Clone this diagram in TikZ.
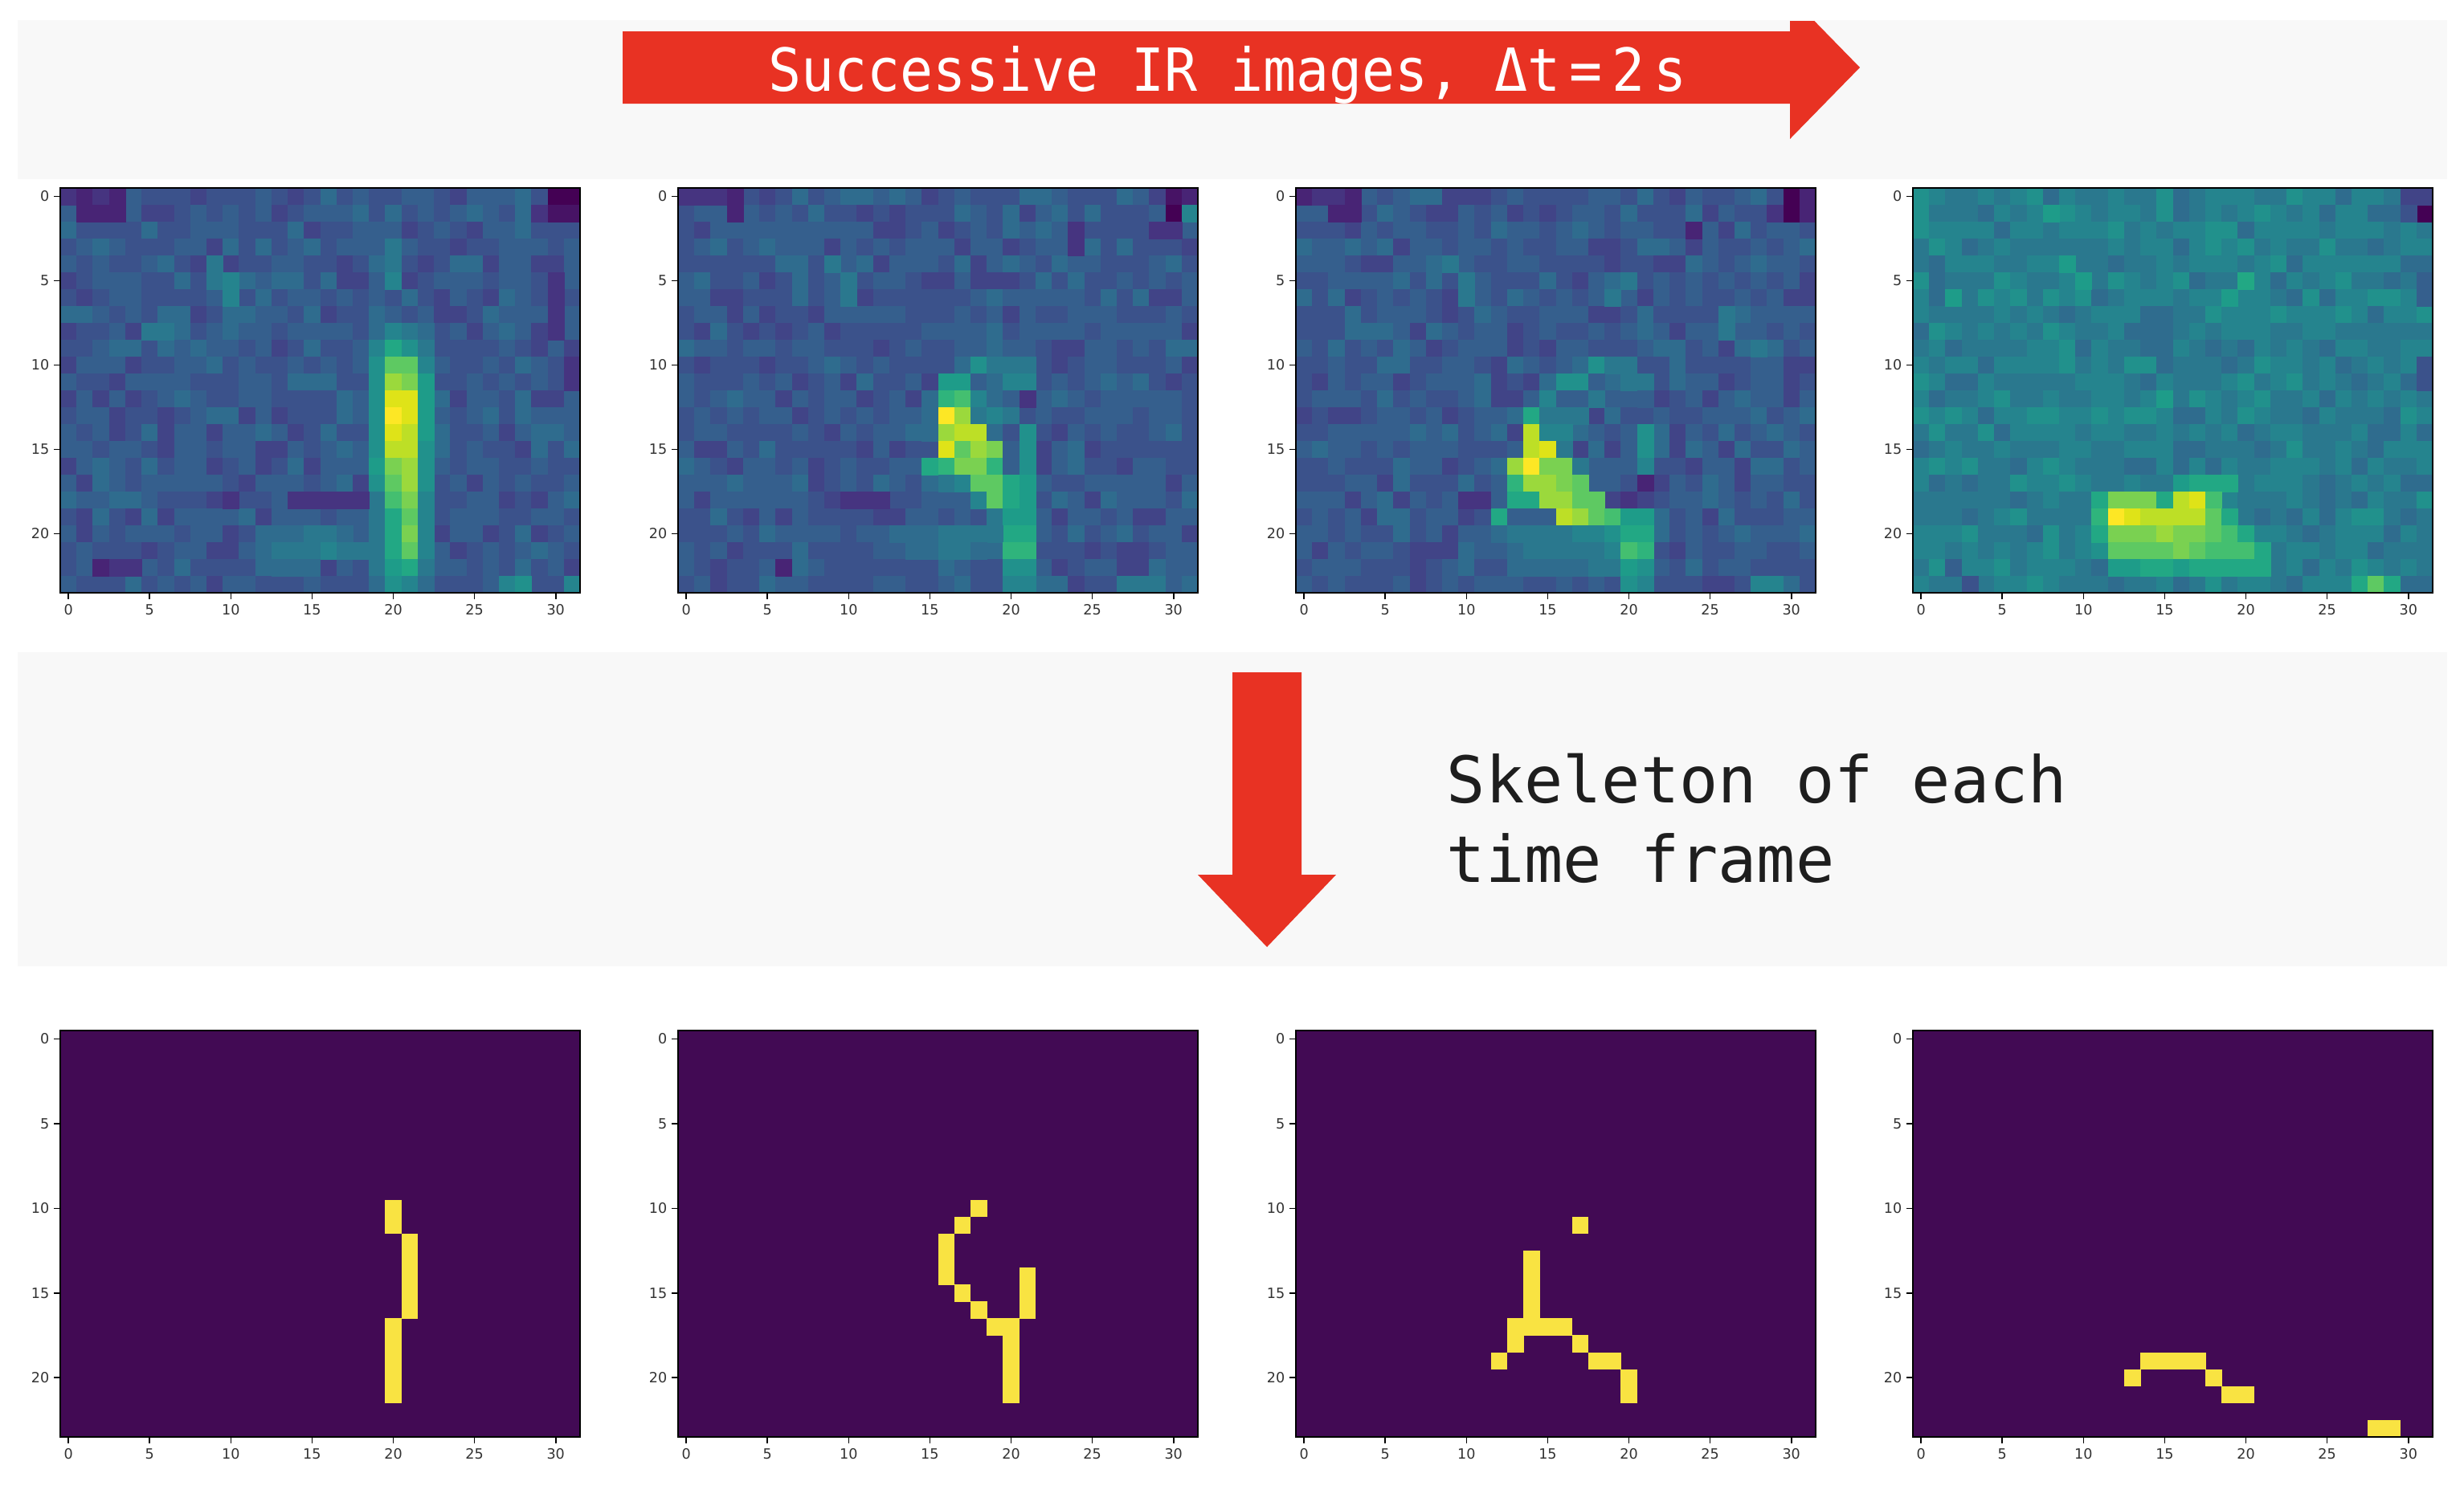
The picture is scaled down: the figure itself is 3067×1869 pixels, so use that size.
\documentclass[tikz,border=0pt]{standalone}
\usepackage{fontspec}
\setmainfont{DejaVu Sans}
\newfontfamily\monofont{DejaVu Sans Mono}
\definecolor{v0}{HTML}{440154}
\definecolor{v1}{HTML}{471365}
\definecolor{v2}{HTML}{482475}
\definecolor{v3}{HTML}{463480}
\definecolor{v4}{HTML}{414487}
\definecolor{v5}{HTML}{3B528B}
\definecolor{v6}{HTML}{355F8D}
\definecolor{v7}{HTML}{2F6C8E}
\definecolor{v8}{HTML}{2A788E}
\definecolor{v9}{HTML}{25848E}
\definecolor{v10}{HTML}{21918C}
\definecolor{v11}{HTML}{1E9C89}
\definecolor{v12}{HTML}{22A884}
\definecolor{v13}{HTML}{2FB47C}
\definecolor{v14}{HTML}{44BF70}
\definecolor{v15}{HTML}{5EC962}
\definecolor{v16}{HTML}{7AD151}
\definecolor{v17}{HTML}{9BD93C}
\definecolor{v18}{HTML}{BDDF26}
\definecolor{v19}{HTML}{DFE318}
\definecolor{v20}{HTML}{FDE725}
\definecolor{arrowred}{RGB}{232,50,35}
\definecolor{bandgray}{HTML}{F8F8F8}
\definecolor{skbg}{HTML}{420A54}
\definecolor{skyel}{HTML}{F9E342}
\definecolor{textdark}{HTML}{1E1E1E}

\tikzset{
  band/.style={fill=bandgray},
  redarrow/.style={fill=arrowred},
  framestyle/.style={draw=black, line width=0.6pt},
  tickstyle/.style={draw=black, line width=0.45pt},
  ticklabel/.style={font=\fontsize{5}{6}\selectfont, text=black!80, inner sep=0pt},
  bigtext/.style={font=\monofont\fontsize{22.8}{27}\selectfont, text=textdark, inner sep=0pt},
  toptext/.style={font=\monofont\fontsize{21}{25}\selectfont, text=white, inner sep=0pt},
}

\def\cw{20.22}
% #1 x0, #2 y0, #3 base level, #4 features c/r/level
\newcommand\heatpanel[4]{%
  \foreach \rr in {0,...,23}{
    \foreach \cc in {0,...,31}{
      \pgfmathrandominteger{\ra}{0}{1}
      \pgfmathrandominteger{\rb}{0}{1}
      \pgfmathrandominteger{\rc}{0}{1}
      \pgfmathtruncatemacro{\lv}{#3+\ra+\rb+\rc}
      \fill[fill=v\lv] ({#1+\cc*\cw},{#2+\rr*21}) rectangle ++(\cw+0.8,21.8);
    }
  }
  \foreach \cc/\rr/\ll in {#4}{
    \fill[fill=v\ll] ({#1+\cc*\cw},{#2+\rr*21}) rectangle ++(\cw+0.8,21.8);
  }
}
% #1 x0, #2 y0, #3 cells c/r
\newcommand\skelpanel[3]{%
  \fill[skbg] (#1,#2) rectangle ++(647,506);
  \foreach \cc/\rr in {#3}{
    \fill[skyel] ({#1+\cc*\cw},{#2+\rr*21.08}) rectangle ++(\cw+0.5,21.58);
  }
}
% #1 x0, #2 y0, #3 height, #4 id
\newcommand\panelaxes[4]{%
  \draw[framestyle] (#1,#2) rectangle ++(647,#3);
  \foreach \rr in {0,5,10,15,20}{
    \draw[tickstyle] ({#1-8},{#2+(\rr+0.5)*#3/24}) -- ++(8,0);
    \node[ticklabel, anchor=east] (#4y\rr) at ({#1-13},{#2+(\rr+0.5)*#3/24}) {\rr};
  }
  \foreach \cc in {0,5,...,30}{
    \draw[tickstyle] ({#1+(\cc+0.5)*\cw},{#2+#3}) -- ++(0,8);
    \node[ticklabel, anchor=north] (#4x\cc) at ({#1+(\cc+0.5)*\cw},{#2+#3+14}) {\cc};
  }
}

\begin{document}
\begin{tikzpicture}[x=0.01cm, y=-0.01cm]
\useasboundingbox (0,0) rectangle (3067,1869);
\fill[white] (0,0) rectangle (3067,1869);
\pgfmathsetseed{4242}

% bands
\fill[band] (22,25) rectangle (3046,223);
\fill[band] (22,812) rectangle (3046,1203);

% top arrow (clipped at the band top)
\begin{scope}
  \clip (0,26) rectangle (3067,1869);
  \fill[redarrow] (775,39) -- (2228,39) -- (2228,-5) -- (2315,84) -- (2228,173) -- (2228,129) -- (775,129) -- cycle;
\end{scope}
\node[toptext, anchor=base] (ttl) at (1528,113) {\scalebox{0.924}[1]{Successive IR images, Δt\,=\,2\,s}};

% down arrow
\fill[redarrow] (1534,837) -- (1620,837) -- (1620,1089) -- (1663,1089) -- (1577,1179) -- (1491,1089) -- (1534,1089) -- cycle;
\node[bigtext, anchor=base west] (sk1) at (1800,999) {Skeleton of each};
\node[bigtext, anchor=base west] (sk2) at (1800,1098) {time frame};

% ---------- heatmaps ----------
\heatpanel{75}{234}{4}{19/8/7,20/8/9,21/8/8,22/8/7,
19/9/9,20/9/12,21/9/10,22/9/8,
19/10/10,20/10/15,21/10/15,22/10/9,
19/11/10,20/11/17,21/11/16,22/11/11,
19/12/10,20/12/19,21/12/19,22/12/11,
19/13/10,20/13/20,21/13/19,22/13/11,
19/14/10,20/14/19,21/14/18,22/14/11,
19/15/10,20/15/18,21/15/18,22/15/10,
19/16/11,20/16/16,21/16/17,22/16/10,
19/17/10,20/17/15,21/17/17,22/17/10,
19/18/8,20/18/14,21/18/16,22/18/9,
19/19/8,20/19/12,21/19/15,22/19/9,
19/20/8,20/20/12,21/20/16,22/20/9,
19/21/8,20/21/12,21/21/15,22/21/9,
19/22/8,20/22/11,21/22/12,22/22/8,
19/23/7,20/23/10,21/23/9,22/23/7,
0/0/3,1/0/2,2/0/3,3/0/2,1/1/2,2/1/2,3/1/2,30/0/0,31/0/0,30/1/1,31/1/1,29/1/3,
30/5/3,30/6/3,30/7/3,30/8/3,31/10/3,31/11/3,2/22/2,3/22/3,4/22/3,
9/4/8,9/5/8,10/5/9,10/6/9,20/4/8,20/5/9,20/3/8,5/8/8,6/8/8,
14/18/3,15/18/3,16/18/3,17/18/3,18/18/3,10/18/3,
13/20/7,14/20/7,15/20/8,16/20/8,17/20/7,12/21/7,13/21/8,14/21/8,15/21/8,16/21/9,17/21/8,18/21/8,
13/22/7,14/22/7,15/22/7,27/23/9,28/23/10,31/23/9}

\heatpanel{844}{234}{4}{17/10/7,18/10/10,19/10/8,20/10/8,21/10/8,
16/11/11,17/11/11,18/11/6,19/11/7,20/11/9,21/11/9,
15/12/7,16/12/13,17/12/14,18/12/9,19/12/7,20/12/6,21/12/3,
15/13/7,16/13/20,17/13/17,18/13/8,19/13/9,20/13/8,
15/14/7,16/14/17,17/14/18,18/14/18,19/14/7,20/14/5,21/14/10,
16/15/19,17/15/15,18/15/17,19/15/16,20/15/6,21/15/10,
15/16/12,16/16/13,17/16/16,18/16/16,19/16/13,20/16/6,21/16/10,
16/17/8,17/17/9,18/17/15,19/17/15,20/17/12,21/17/11,
18/18/9,19/18/15,20/18/12,21/18/11,
19/19/8,20/19/11,21/19/11,
20/20/12,21/20/12,13/20/7,14/20/7,15/20/7,16/20/8,17/20/8,18/20/8,19/20/8,
20/21/13,21/21/13,14/21/7,15/21/7,16/21/8,17/21/8,18/21/7,
20/22/10,21/22/10,20/23/9,21/23/9,27/23/8,28/23/8,29/23/8,
30/0/1,31/0/2,30/1/0,31/1/9,0/0/3,1/0/3,2/0/3,3/0/2,3/1/2,29/2/3,30/2/3,24/2/3,24/3/3,
10/18/3,11/18/3,12/18/3,9/4/8,10/5/8,10/6/8,6/22/2}

\heatpanel{1613}{234}{4}{17/10/7,18/10/10,19/10/8,20/10/8,
16/11/10,17/11/10,18/11/6,20/11/8,21/11/8,
15/12/9,16/12/6,17/12/6,18/12/8,21/12/6,
14/13/12,15/13/8,16/13/8,17/13/8,
14/14/18,15/14/9,16/14/9,20/14/6,21/14/10,
14/15/18,15/15/19,16/15/8,21/15/10,
13/16/17,14/16/20,15/16/16,16/16/16,17/16/8,21/16/9,
13/17/13,14/17/17,15/17/17,16/17/16,17/17/15,20/17/5,21/17/2,
13/18/12,14/18/12,15/18/17,16/18/17,17/18/15,18/18/15,20/18/3,21/18/4,10/18/3,11/18/3,
12/19/12,13/19/6,14/19/6,15/19/6,16/19/18,17/19/17,18/19/15,19/19/14,20/19/11,21/19/11,
12/20/7,13/20/8,14/20/8,15/20/8,16/20/8,17/20/9,18/20/9,19/20/10,20/20/12,21/20/12,
14/21/8,15/21/8,16/21/8,17/21/8,18/21/8,19/21/9,20/21/14,21/21/13,
13/22/7,14/22/7,15/22/7,16/22/7,17/22/7,18/22/8,19/22/8,20/22/11,21/22/10,
20/23/10,21/23/9,28/23/9,29/23/9,
30/0/0,30/1/0,31/0/2,31/1/2,0/0/2,1/0/3,2/0/3,3/0/2,3/1/2,2/1/2,29/1/3,24/2/2,
9/4/8,10/5/8,10/6/8,20/5/8,19/6/8,26/7/8,26/8/8,28/9/8}

\heatpanel{2381}{234}{7}{16/17/11,17/17/12,18/17/12,19/17/12,
11/18/12,12/18/16,13/18/16,14/18/16,15/18/12,16/18/18,17/18/19,18/18/14,
11/19/13,12/19/20,13/19/19,14/19/18,15/19/18,16/19/18,17/19/18,18/19/15,19/19/12,
11/20/12,12/20/16,13/20/16,14/20/16,15/20/17,16/20/16,17/20/16,18/20/15,19/20/14,20/20/12,
12/21/15,13/21/15,14/21/15,15/21/15,16/21/16,17/21/15,18/21/14,19/21/14,20/21/14,21/21/12,
12/22/11,13/22/11,14/22/12,15/22/12,16/22/11,17/22/12,18/22/12,19/22/12,20/22/12,21/22/12,
27/23/12,28/23/15,29/23/12,
31/1/0,30/0/4,31/0/4,30/1/5,31/5/6,31/6/6,31/10/5,31/11/5,2/22/6,3/23/5,
9/4/11,10/5/11,20/5/12,2/6/11,8/1/11,19/6/11,15/12/11}

\panelaxes{75}{234}{504}{a}
\panelaxes{844}{234}{504}{b}
\panelaxes{1613}{234}{504}{c}
\panelaxes{2381}{234}{504}{d}

% ---------- skeletons ----------
\skelpanel{75}{1283}{20/10,20/11,21/12,21/13,21/14,21/15,21/16,20/17,20/18,20/19,20/20,20/21}
\skelpanel{844}{1283}{18/10,17/11,16/12,16/13,16/14,17/15,18/16,19/17,20/17,20/18,20/19,20/20,20/21,21/14,21/15,21/16}
\skelpanel{1613}{1283}{17/11,14/13,14/14,14/15,14/16,14/17,13/17,15/17,16/17,13/18,17/18,12/19,18/19,19/19,20/20,20/21}
\skelpanel{2381}{1283}{14/19,15/19,16/19,17/19,13/20,18/20,19/21,20/21,28/23,29/23}

\panelaxes{75}{1283}{506}{e}
\panelaxes{844}{1283}{506}{f}
\panelaxes{1613}{1283}{506}{g}
\panelaxes{2381}{1283}{506}{h}
\end{tikzpicture}
\end{document}
